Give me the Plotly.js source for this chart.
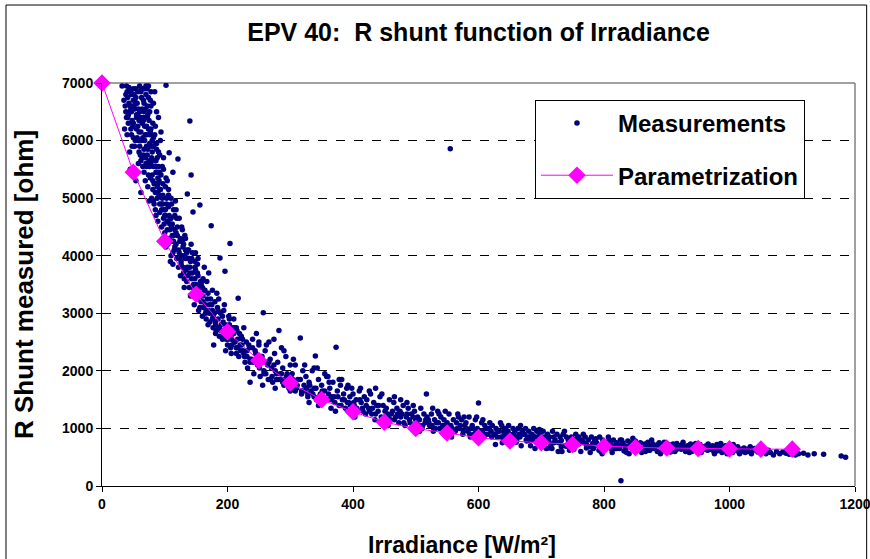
<!DOCTYPE html>
<html>
<head>
<meta charset="utf-8">
<script src="https://cdn.plot.ly/plotly-3.0.1.min.js"></script>
<style>html,body{margin:0;padding:0;background:#fff}#chart{width:870px;height:559px}</style>
</head>
<body>
<div id="chart"></div>
<script>
const measX = [
32,35,38,40,42,45,47,50,52,55,
36,39,41,44,46,48,51,53,56,58,
43,45,49,50,54,57,59,60,61,62,
63,64,65,66,67,68,70,71,72,73,
74,75,76,77,78,79,80,81,82,83,
62,66,69,72,75,78,81,84,86,88,
84,85,86,87,88,89,90,91,92,93,
60,64,68,70,74,76,80,82,85,89,
94,95,96,97,98,99,100,101,102,104,
105,106,107,108,110,111,112,113,115,116,
95,98,102,104,106,109,112,114,117,119,
90,93,96,100,103,107,110,113,118,120,
121,122,124,125,127,128,130,132,133,135,
136,137,139,140,142,143,145,146,148,150,
123,126,129,131,134,138,141,144,147,149,
151,152,154,155,156,158,159,160,142,140,
153,157,161,162,164,166,168,170,163,167,
172,174,175,177,179,181,183,185,187,188,
190,192,194,196,198,200,202,204,206,208,
176,180,184,189,193,197,201,205,210,214,
212,215,217,218,220,170,178,186,195,203,
222,225,228,230,232,235,238,240,242,245,
248,250,252,255,257,258,260,262,265,268,
270,272,275,278,280,282,285,288,290,293,
295,298,300,226,236,246,256,266,276,286,
300,303,305,308,310,312,316,318,320,322,
325,328,330,333,335,338,340,342,345,348,
350,352,355,358,360,363,365,368,370,373,
375,378,380,383,385,388,390,393,395,398,
400,402,405,408,410,413,415,418,420,330,
345,355,362,372,382,392,403,412,338,366,
422,425,428,430,433,435,438,440,443,445,
448,450,453,455,458,460,463,465,468,470,
473,475,478,480,483,485,488,490,493,495,
498,500,503,505,508,510,513,515,518,520,
426,436,446,456,466,476,486,496,506,517,
522,525,528,530,533,535,538,540,543,545,
548,550,553,555,558,560,563,565,568,570,
573,575,578,580,583,585,588,590,593,595,
598,600,603,605,608,610,613,615,618,620,
527,537,547,557,567,577,587,597,607,617,
622,625,628,630,633,635,638,640,643,645,
648,650,653,655,658,660,663,665,668,670,
673,675,678,680,683,685,688,690,693,695,
698,700,703,705,708,710,713,715,718,720,
627,637,647,657,667,677,687,697,707,717,
722,725,728,730,733,735,738,740,743,745,
748,750,753,755,758,760,763,765,768,770,
773,775,778,780,783,785,788,790,793,795,
798,800,803,805,808,810,813,815,818,820,
727,737,747,757,767,777,787,797,807,817,
822,825,827,828,830,833,835,838,840,843,
845,848,850,853,855,858,860,863,865,868,
870,873,875,878,880,883,885,888,890,893,
895,898,900,903,905,908,910,913,915,918,
826,836,846,856,866,876,886,896,906,916,
920,923,925,928,930,933,935,938,940,943,
945,948,950,953,955,958,960,963,965,968,
970,973,975,978,980,983,985,988,990,993,
995,998,1000,1003,1005,1008,1010,1013,1015,1018,
926,936,946,956,966,976,986,996,1006,1016,
1020,1023,1025,1028,1030,1033,1035,1038,1040,1045,
1050,1055,1058,1062,1065,1070,1075,1080,1085,1090,
1095,1100,1105,1110,1118,1125,1135,1150,1178,1185,
37,41,46,52,57,63,69,73,79,85,
40,48,55,61,67,71,77,83,87,91,
50,54,58,62,66,70,74,78,82,86,
44,47,53,59,65,71,76,81,88,92,
86,89,92,95,99,103,107,111,114,118,
97,101,105,109,113,116,119,122,126,130,
125,129,133,137,141,145,149,153,157,161,
131,135,139,144,148,152,156,160,165,169,
165,169,173,177,181,185,189,193,197,201,
171,176,182,187,192,198,203,207,211,216,
206,210,214,219,223,227,231,236,240,244,
247,251,256,261,266,271,276,281,286,291,
296,301,306,311,316,321,326,331,336,341,
346,351,356,361,366,371,376,381,386,391,
396,401,406,411,416,421,426,431,436,441,
250,262,274,290,305,323,343,360,378,398,
451,456,461,466,471,476,481,486,491,496,
501,506,511,516,521,526,531,536,541,546,
551,556,561,566,571,576,581,586,591,596,
601,606,611,616,621,626,631,636,641,646,
651,656,661,666,671,676,681,686,691,696,
702,712,722,732,742,752,762,772,782,792,
806,816,826,836,846,856,866,876,886,896,
906,916,926,936,946,956,966,976,986,996,
712,732,752,772,792,812,832,852,872,892,
38,42,46,50,54,58,62,66,70,74,
39,43,47,51,55,59,63,67,71,75,
56,60,64,68,72,76,80,84,88,92,
52,57,62,67,72,77,82,87,92,97,
65,69,73,77,81,85,89,93,97,101,
78,82,86,90,94,98,102,106,110,114,
104,108,112,116,120,124,128,132,136,140,
118,123,128,133,138,143,148,153,158,163,
146,151,156,161,166,171,176,181,186,191,
196,201,206,211,216,221,226,231,236,241,
214,224,234,244,254,264,274,284,294,304,
258,268,278,288,298,308,318,328,338,348,
640,660,680,700,720,740,760,780,800,820,
840,860,880,900,920,940,960,980,1000,1020
];
const measY = [
6950,6700,6500,6850,6300,6600,6100,6900,5900,6450,
6200,6950,6750,5800,6550,6350,6800,6000,6650,5600,
6920,5500,6250,6700,5300,6850,6150,6950,5750,6400,
6900,6550,6050,6700,5450,6250,6800,5900,6400,5200,
6950,5650,6100,5350,6600,5000,5800,6300,5550,4900,
5100,5750,5300,6600,4950,5900,5150,6850,5450,5700,
6100,4800,5250,6500,5000,4600,5550,5300,4750,6000,
6500,6300,6900,5600,6200,6500,6000,6650,5950,5100,
5400,4500,5000,4300,5700,4800,4400,5200,6960,4600,
4200,5050,5790,4450,4000,4900,4350,5450,4100,4700,
4900,4650,4150,5300,4850,3900,4550,4250,4950,3950,
5800,5150,5550,4700,5000,4300,4650,3850,4400,4500,
5680,3800,4250,3650,4500,4000,3700,4350,3950,3550,
5070,4100,3450,3800,4200,3600,4760,3350,3900,3500,
4050,3900,4150,3450,3750,3950,3300,3700,3150,4050,
3250,3700,3050,3450,4880,3200,3550,2950,5400,6340,
3950,3350,3600,3100,3400,2900,3250,3050,3800,3550,
2850,4520,3150,2750,3000,2650,3350,2900,2600,3960,
2800,2550,3050,3730,2700,2450,2950,4210,2600,2750,
3400,3200,3100,3000,2850,2350,2550,2400,2650,2300,
2500,2700,3260,2250,2450,3700,2450,3250,3150,2900,
2600,2350,2150,2500,2050,2400,2200,2550,1950,2300,
2100,2450,1900,2250,3010,2000,2350,2150,1850,2200,
2050,1800,2300,1950,2150,2700,1850,2050,1750,2250,
1950,1700,2100,2750,1800,2650,1750,2500,1700,2400,
1650,1950,1800,2100,1700,1850,2570,1600,2000,1750,
1900,1550,1800,1650,2000,1700,2260,1500,1850,1600,
1750,1450,1650,1900,1500,1700,1350,1800,1550,2410,
1650,1400,1750,1500,1600,1350,1700,1450,1550,1250,
1600,1400,1500,1300,1650,1450,1350,1550,1250,1450,
1400,1950,1800,1300,1850,1750,1200,1700,2050,1550,
1500,1350,1600,1250,1450,1150,1400,1300,1550,1200,
1400,1100,1350,1250,1500,1150,1300,1450,1200,1350,
1100,1300,1250,1400,1050,1200,1350,1150,1250,1050,
1300,1150,1200,1050,1350,1000,1250,1100,1200,1150,
1650,1700,1600,1050,1550,1500,1450,1400,950,1600,
1050,1250,950,1150,1100,1300,1000,1200,1050,1150,
900,1100,1250,5860,1000,1150,950,1100,1200,1000,
1150,900,1050,1100,950,1200,1000,1050,900,1150,
1000,1440,950,1100,850,1050,1000,900,1100,950,
1350,1250,1300,850,1250,1200,850,1200,1150,1000,
1050,900,1000,850,950,1100,750,950,1000,850,
1050,900,750,1000,950,850,1000,900,700,950,
900,1000,850,950,700,900,1000,650,950,850,
900,800,950,850,650,900,850,700,950,850,
720,1050,950,780,1050,780,870,980,800,650,
800,900,750,850,600,900,700,850,800,620,
850,700,800,900,750,850,600,800,750,850,
700,800,580,850,650,800,750,700,850,600,
800,650,750,700,800,750,580,800,650,750,
600,950,680,820,900,680,820,560,850,700,
700,650,90,800,750,700,650,780,560,750,
650,720,780,680,620,750,580,650,730,680,
760,620,700,730,650,700,600,750,560,720,
650,700,620,720,680,650,730,600,700,660,
800,580,830,740,600,800,720,760,590,740,
700,640,720,680,600,700,650,730,620,680,
700,620,660,720,580,680,640,700,620,670,
640,700,600,660,720,620,680,580,650,700,
600,660,640,700,580,650,620,680,590,640,
760,580,740,620,730,560,740,560,720,560,
620,660,580,640,600,680,560,620,650,590,
630,600,560,620,580,540,600,560,590,570,
550,590,540,560,570,540,560,550,520,500,
6600,6400,6850,6550,6250,6750,6100,6450,5700,6250,
6100,5900,6400,6000,5850,5550,6150,5250,5850,5050,
6300,6750,6000,5650,6400,6950,5400,6850,4950,4700,
6500,6800,6650,6350,6900,6250,5950,5650,5450,4900,
5550,5250,5150,4800,4550,4900,4700,4500,4350,4200,
5050,4800,4600,4650,4050,4450,4650,4100,3850,4200,
4300,3800,4100,3650,3900,3450,3750,3350,3550,3200,
3600,4050,3950,4050,3600,3850,3100,3450,3150,3350,
3000,2800,3250,2950,2800,3050,2700,2600,2800,2650,
3150,3050,2700,2750,2950,2550,2800,2450,2750,2550,
2300,2900,2400,2650,2450,2250,2350,2150,2400,2200,
2250,2050,2150,1950,2150,1900,2000,1850,1950,1850,
1800,1900,1700,1750,1850,1650,1700,1750,1600,1700,
1550,1650,1500,1600,1500,1450,1550,1400,1500,1450,
1400,1450,1350,1500,1300,1400,1300,1350,1250,1400,
2500,2450,2550,2350,2200,2100,2050,1900,1850,1700,
1300,1200,1250,1150,1250,1200,1100,1250,1100,1200,
1100,1150,1050,1150,1100,1050,1000,1100,1000,1050,
1000,1050,950,1000,1050,950,1000,900,1000,950,
900,950,900,1000,850,900,950,850,900,850,
850,900,800,850,900,800,850,800,850,800,
800,780,760,790,720,760,780,720,740,700,
720,690,710,680,700,660,690,650,700,660,
680,640,660,690,650,670,630,660,640,650,
660,680,640,660,620,640,610,630,620,600,
6800,6450,6200,6050,6900,6550,6150,6350,6550,6750,
6400,6650,6500,6600,6200,5800,6000,6500,6100,6350,
6050,5900,5700,6000,5750,5550,5400,5650,5200,5450,
6700,6450,6850,6650,6900,6700,6050,5950,5750,5250,
5550,5700,5850,5600,5300,5100,5350,5150,4900,4700,
6200,5900,5650,6400,6150,5500,5350,5150,5000,4800,
4450,4550,4250,4150,4350,3950,4250,4000,3800,3700,
4800,4650,4450,4300,4100,3950,3800,3650,3500,3400,
3500,3350,3250,3300,3050,3000,2900,2850,2750,2700,
2650,2600,2550,2500,2400,2350,2300,2250,2200,2150,
2750,2550,2450,2350,2250,2100,2100,1950,1900,1850,
1950,1850,1850,1800,1750,1650,1650,1600,1550,1550,
820,760,790,720,750,690,730,680,700,650,
690,630,670,620,660,600,650,610,640,600
];
// Parametrization
const paramX = [0,50,100,150,200,250,300,350,400,450,500,550,600,650,700,750,800,850,900,950,1000,1050,1100];
const paramY = [7000,5450,4250,3330,2680,2180,1790,1500,1290,1110,1000,920,840,780,750,720,690,670,660,650,645,640,640];
const xTicks = [0,200,400,600,800,1000,1200];
const yTicks = [0,1000,2000,3000,4000,5000,6000,7000];

const bold = {family:'"Liberation Sans", Arial, sans-serif', color:'#000', weight:'bold'};

const traces = [
  {x: measX, y: measY, type:'scatter', mode:'markers', name:'Measurements',
   legendgroup:'a', marker:{color:'#000080', size:5.5, symbol:'circle'}},
  {x: paramX, y: paramY, type:'scatter', mode:'lines+markers', name:'Parametrization',
   legendgroup:'b', line:{color:'#FF00FF', width:1},
   marker:{color:'#FF00FF', size:13.5, symbol:'diamond'}, cliponaxis:false}
];

const layout = {
  width:870, height:559,
  margin:{l:102, r:15, t:83, b:73},
  paper_bgcolor:'#fff', plot_bgcolor:'#fff',
  title:{text:'EPV 40:\u00a0\u00a0R shunt function of Irradiance', x:0.5, xref:'paper', xanchor:'center',
         y:1 - 32/559, yref:'container', yanchor:'middle',
         font:Object.assign({}, bold, {size:25})},
  xaxis:{range:[0,1200], tickvals:xTicks, ticktext:xTicks.map(String), ticks:'outside', ticklen:5, tickcolor:'#000',
         showline:true, linecolor:'#000', linewidth:1, showgrid:false, zeroline:false, ticklabeloverflow:'allow',
         tickfont:Object.assign({}, bold, {size:14})},
  yaxis:{range:[0,7000], tickvals:yTicks, ticktext:yTicks.map(String), ticks:'outside', ticklen:5, tickcolor:'#000',
         showline:true, linecolor:'#000', linewidth:1, showgrid:true, gridcolor:'#000', griddash:'dash', gridwidth:1,
         zeroline:false, tickfont:Object.assign({}, bold, {size:14}),
         title:{text:'R Shunt measured [ohm]', font:Object.assign({}, bold, {size:26}), standoff:20}},
  annotations:[
    {text:'Irradiance [W/m²]', xref:'paper', yref:'paper', x:(462-102)/753, y:(486-545)/403,
     xanchor:'center', yanchor:'middle', showarrow:false, font:Object.assign({}, bold, {size:23})}
  ],
  showlegend:true,
  legend:{x:0.575, y:0.958, xanchor:'left', yanchor:'top', bgcolor:'#fff', bordercolor:'#000', borderwidth:1,
          font:Object.assign({}, bold, {size:24}), tracegroupgap:18, traceorder:'grouped', itemwidth:72},
  shapes:[
    {type:'line', xref:'paper', yref:'paper', x0:0, x1:1, y0:1, y1:1, line:{color:'#808080', width:1.5}, layer:'between'},
    {type:'line', xref:'paper', yref:'paper', x0:1, x1:1, y0:0, y1:1, line:{color:'#808080', width:1.5}, layer:'between'},
    {type:'rect', xref:'paper', yref:'paper', x0:-0.1275, x1:1.0155, y0:-0.3, y1:1.1935, line:{color:'#000', width:1}, fillcolor:'rgba(0,0,0,0)', layer:'below'}
  ]
};

Plotly.newPlot('chart', traces, layout, {displayModeBar:false, staticPlot:true});
</script>
</body>
</html>
